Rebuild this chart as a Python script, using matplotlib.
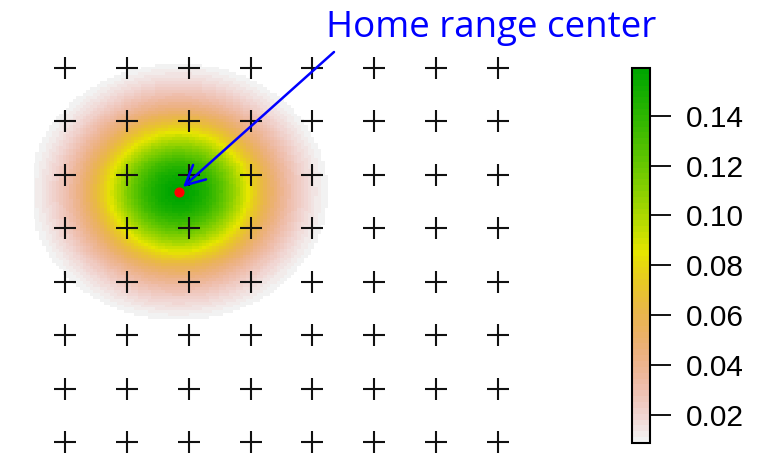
import numpy as np
import matplotlib
matplotlib.use("Agg")
import matplotlib.pyplot as plt
from matplotlib.colors import ListedColormap, hsv_to_rgb
from matplotlib.patches import FancyArrowPatch

# Trap locations (8 x 8 grid)
trap_x = [1, 2, 3, 4, 5, 6, 7, 8]
trap_y = [1, 2, 3, 4, 5, 6, 7, 8]

# Activity centre and bivariate normal home-range scale
center_x = 2.84
center_y = 5.68
sigma = 1.0
density_floor = 0.0088

colorbar_ticks = [0.02, 0.04, 0.06, 0.08, 0.10, 0.12, 0.14]
annotation_text = "Home range center"


def terrain_colors(n):
    """R's terrain.colors palette (green -> yellow -> tan -> light grey)."""
    k = n // 2
    m = n - k + 1
    h = np.r_[np.linspace(4 / 12, 2 / 12, k), np.linspace(2 / 12, 0, m)[1:]]
    s = np.r_[np.linspace(1, 1, k), np.linspace(1, 0, m)[1:]]
    v = np.r_[np.linspace(0.65, 0.9, k), np.linspace(0.9, 0.95, m)[1:]]
    return hsv_to_rgb(np.column_stack([h, s, v]))


cmap = ListedColormap(terrain_colors(64)[::-1])

# Home-range utilisation density on a fine raster
step = 0.055
gx = np.arange(0.0, 6.0, step)
gy = np.arange(2.5, 9.0, step)
GX, GY = np.meshgrid(gx, gy)
d2 = (GX - center_x) ** 2 + (GY - center_y) ** 2
dens = np.exp(-d2 / (2 * sigma ** 2)) / (2 * np.pi * sigma ** 2)
dens = np.ma.masked_less(dens, density_floor)

fig = plt.figure(figsize=(7.65, 4.55), dpi=100)
W, H = 765, 455
ax = fig.add_axes([34.07 / W, 0.18 / H, 494.9 / W, 418.9 / H])
ax.set_xlim(0.5, 8.5)
ax.set_ylim(0.76, 8.6)
ax.axis("off")

mesh = ax.pcolormesh(gx, gy, dens, cmap=cmap, shading="nearest",
                     vmin=dens.min(), vmax=dens.max(), zorder=1)

TX, TY = np.meshgrid(trap_x, trap_y)
ax.plot(TX.ravel(), TY.ravel(), "+", ms=16, mew=1.5, color="#111111",
        zorder=3, linestyle="none")
ax.plot(center_x, center_y, "o", ms=7.3, color="red", mec="none", zorder=4)

# Colour legend
cax = fig.add_axes([632 / W, 12 / H, 18 / W, 375 / H])
cb = fig.colorbar(mesh, cax=cax, ticks=colorbar_ticks)
cb.outline.set_linewidth(1.5)
cb.ax.tick_params(length=15, width=1.3, pad=11, labelsize=21.5)
cb.ax.set_yticklabels([f"{t:.2f}" for t in colorbar_ticks],
                      family="Liberation Sans")

# Annotation
fig.text(491 / W, 418 / H, annotation_text, color="blue", fontsize=26.5,
         family="Open Sans", ha="center", va="baseline")
fig.add_artist(FancyArrowPatch(
    (334, H - 52), (183, H - 187), transform=None,
    arrowstyle="->,head_length=0.7,head_width=0.35", mutation_scale=20,
    color="blue", lw=1.8, shrinkA=0, shrinkB=0, zorder=10))

fig.savefig("out.png", dpi=100)
